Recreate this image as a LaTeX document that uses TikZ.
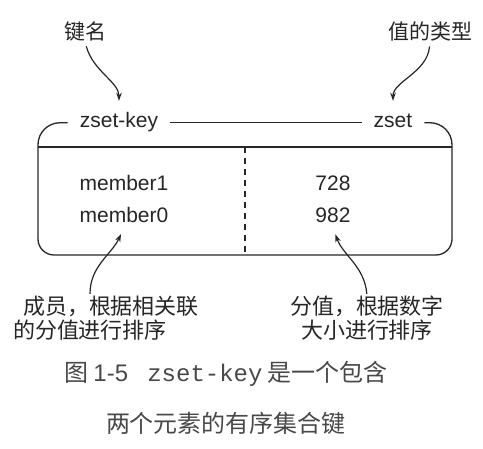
\documentclass[tikz,border=0pt]{standalone}
\usepackage{fontspec}
\setmainfont{Liberation Sans}
\setmonofont{Liberation Mono}
\newfontfamily\cjk{Noto Sans CJK SC}
\usetikzlibrary{arrows.meta}
\definecolor{inkgray}{HTML}{262626}
\definecolor{capgray}{HTML}{484848}
\tikzset{
	lbl/.style={font=\fontsize{21}{24}\selectfont, text=inkgray, inner sep=0pt, text height=15pt, text depth=4.5pt, anchor=base},
	hinttxt/.style={font=\cjk\fontsize{21}{24}\selectfont, text=inkgray, inner sep=0pt},
	note/.style={font=\cjk\fontsize{22}{23.5}\selectfont, text=inkgray, inner sep=0pt},
	frame/.style={line width=1.3pt, draw=inkgray},
	hint/.style={-{Stealth[length=8pt,width=5.5pt]}, line width=1.2pt, draw=inkgray},
}

\begin{document}
\begin{tikzpicture}[x=1pt,y=-1pt]
			%%%%% START %%%%%
			\useasboundingbox (0,0) rectangle (483,449);
			
			\node[hinttxt] (keyhint) at (85,31.5) {键名};
			\node[hinttxt] (typehint) at (430,31.5) {值的类型};
			
			\node[lbl, inner xsep=12pt] (keyname) at (119,128) {zset-key};
			\node[lbl, inner xsep=12pt] (keytype) at (393,128) {zset};
			
			\draw[frame, rounded corners=22pt] (38,147) |- (keyname.west);
			\draw[frame] (keyname.east) -- (keytype.west);
			\draw[frame, rounded corners=22pt] (keytype.east) -| (452,147);
			
			\draw[frame] (38,147) -- (452,147);
			\draw[frame, rounded corners=16pt] (38,147) -- (38,255) -- (452,255) -- (452,147);
			\draw[frame, dash pattern=on 6pt off 5pt] (245,147) -- (245,255);
			
			\node[lbl] (member1) at (124,191) {member1};
			\node[lbl] (member0) at (124,223) {member0};
			\node[lbl] (score1) at (333,191) {728};
			\node[lbl] (score0) at (333,223) {982};
			
			\draw[hint, shorten <=5pt, shorten >=12pt] (keyhint.south) to[out=-75,in=90] (keyname.north);
			\draw[hint, shorten <=5pt, shorten >=12pt] (typehint.south) to[out=-95,in=90] (keytype.north);
			
			\node[note, align=left] (membnote) at (106,318) {\hspace*{10pt}成员，根据相关联\\的分值进行排序};
			\node[note, align=center] (scorenote) at (367,318) {分值，根据数字\\大小进行排序};
			
			\draw[hint, shorten <=2pt, shorten >=7pt] ([xshift=-16pt]membnote.north) to[out=90,in=-115] (member0.south);
			\draw[hint, shorten <=2pt, shorten >=7pt] (scorenote.north) to[out=95,in=-70] (score0.south);
			
			\node[font=\cjk\fontsize{24}{51}\selectfont, text=capgray, inner sep=0pt, align=center] (figcap) at (226,398)
				{图 {\rmfamily 1-5}\hspace{0.8em}{\ttfamily zset-key} 是一个包含\\两个元素的有序集合键};
			
			%%%%% END %%%%%
\end{tikzpicture}
\end{document}
